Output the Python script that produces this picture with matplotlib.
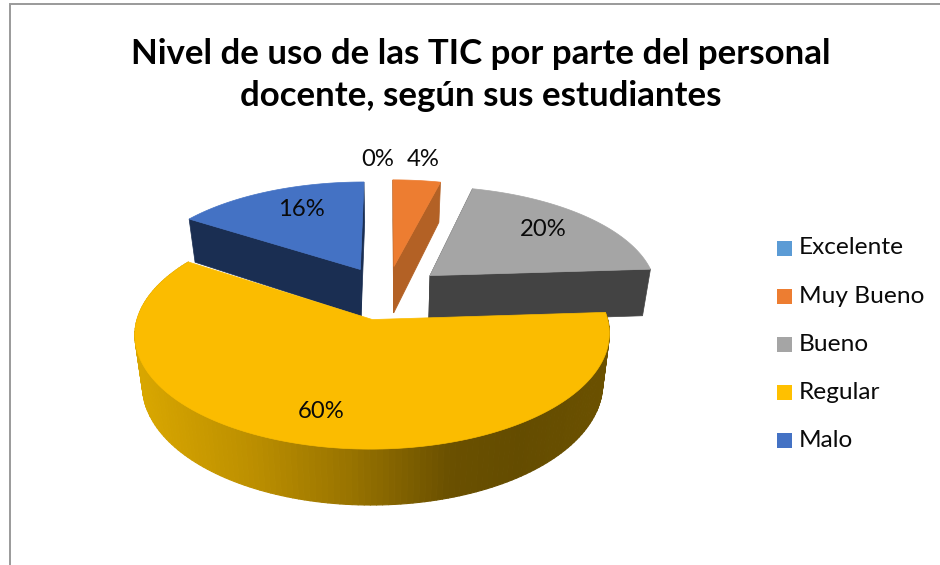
import numpy as np
import matplotlib
matplotlib.use("Agg")
import matplotlib.pyplot as plt
from matplotlib.collections import PolyCollection
from matplotlib.colors import to_rgb
from matplotlib.patches import Polygon, Rectangle

plt.rcParams['font.family'] = ['Lato', 'DejaVu Sans']

title = "Nivel de uso de las TIC por parte del personal\ndocente, según sus estudiantes"
categories = ['Excelente', 'Muy Bueno', 'Bueno', 'Regular', 'Malo']
values = [0, 4, 20, 60, 16]

top_colors = ['#5B9BD5', '#ED7D31', '#A5A5A5', '#FBBC00', '#4472C4']
side_colors = ['#3A6A96', '#B36125', '#434343', None, '#1A2E52']
legend_colors = ['#5B9BD5', '#ED7D31', '#A5A5A5', '#FFC000', '#4472C4']
label_xy = [(378, 160), (423, 160), (543, 230), (321, 411), (301, 210)]

# pie geometry in pixels, with a bit of perspective
cx, cy = 387, 292.5
rx, ry = 228, 108.2
persp = 0.133
depth = 48
explode = 0.25


def project(u, v, z=0.0):
    s = 1 + persp * v
    x = cx + rx * u * s * (1 - 0.03 * z)
    y = cy + ry * v * s + depth * s * z
    return np.column_stack([x, y])


def regular_shade(x):
    # side gradient of the big slice, left to right
    xs = [140, 250, 350, 450, 520, 610]
    stops = [to_rgb(c) for c in ['#D8A600', '#BC8F00', '#987300', '#6A5000', '#644C00', '#6B5100']]
    return [np.interp(x, xs, [c[i] for c in stops]) for i in range(3)]


fig = plt.figure(figsize=(9.4, 5.65), dpi=100)
ax = fig.add_axes([0, 0, 1, 1])
ax.set_xlim(0, 940)
ax.set_ylim(565, 0)
ax.axis('off')

# chart frame
ax.plot([10, 10, 940], [565, 4, 4], color='#9A9A9A', lw=1.4, solid_joinstyle='miter')

ends = np.cumsum(values) / sum(values) * 2 * np.pi
starts = np.append(0, ends[:-1])

# back slices first, the big one last
for i in [0, 4, 1, 2, 3]:
    if values[i] == 0:
        continue
    mid = (starts[i] + ends[i]) / 2
    ou, ov = explode * np.sin(mid), -explode * np.cos(mid)
    th = np.linspace(starts[i], ends[i], 160)
    u = ou + np.sin(th)
    v = ov - np.cos(th)
    top = project(u, v)
    low = project(u, v, 1)
    apex_top = project(np.array([ou]), np.array([ov]))
    apex_low = project(np.array([ou]), np.array([ov]), 1)

    if side_colors[i] is not None:
        for k in [0, -1]:
            face = np.vstack([apex_top, top[k], low[k], apex_low])
            ax.add_patch(Polygon(face, closed=True, fc=side_colors[i], ec=side_colors[i], lw=0.5))
    else:
        quads = [np.vstack([top[k], top[k + 1], low[k + 1], low[k]]) for k in range(len(th) - 1)]
        cols = [regular_shade((top[k, 0] + top[k + 1, 0]) / 2) for k in range(len(th) - 1)]
        ax.add_collection(PolyCollection(quads, facecolors=cols, edgecolors=cols, linewidths=0.8))

    ax.add_patch(Polygon(np.vstack([apex_top, top]), closed=True,
                         fc=top_colors[i], ec=top_colors[i], lw=0.5))

for val, (x, y) in zip(values, label_xy):
    ax.text(x, y, f"{val}%", fontsize=17.2, color='#0A0A0A', ha='center', va='center')

ax.text(481, 75, title, fontsize=25.1, fontweight='bold', color='black',
        ha='center', va='center', linespacing=1.38)

# legend
for i, name in enumerate(categories):
    y = 248 + i * 48.2
    ax.add_patch(Rectangle((777, y - 7.5), 15, 15, fc=legend_colors[i], ec='none'))
    ax.text(799, y, name, fontsize=17.6, color='#0A0A0A', ha='left', va='center')

fig.savefig('out.png', dpi=100)
